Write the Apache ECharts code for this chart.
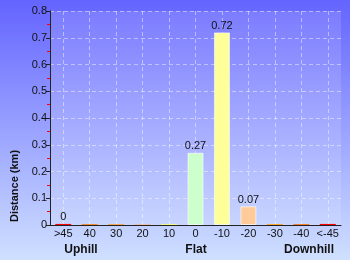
<!DOCTYPE html>
<html><head><meta charset="utf-8">
<script src="https://cdn.jsdelivr.net/npm/echarts@6/dist/echarts.min.js"></script>
<style>html,body{margin:0;padding:0;}#c{width:350px;height:260px;}</style>
</head><body><div id="c"></div>
<script>
const categories = ['>45','40','30','20','10','0','-10','-20','-30','-40','<-45'];
const values = [0.004, 0.003, 0.003, 0.002, 0.003, 0.27, 0.72, 0.07, 0.003, 0.003, 0.004];
const valueLabels = ['0','','','','','0.27','0.72','0.07','','',''];
const barColors = ['#ff0000','#ff7700','#ff9933','#ffaa66','#ffff66','#ccffcc','#ffff99','#ffcc99','#ff9900','#ff6600','#ff0000'];
const yTicks = [0,0.1,0.2,0.3,0.4,0.5,0.6,0.7,0.8];
const groupLabels = ['Uphill','Flat','Downhill'];
const axisTitle = 'Distance (km)';

const font = '"Liberation Sans", Arial, sans-serif';
const chart = echarts.init(document.getElementById('c'));
chart.setOption({
  animation:false,
  backgroundColor:{type:'linear',x:0,y:0,x2:0,y2:1,colorStops:[{offset:0,color:'#6464ff'},{offset:1,color:'#cfe0ff'}]},
  grid:{left:50,right:9,top:11,bottom:35,show:true,backgroundColor:'rgba(255,255,255,0.13)',borderWidth:0},
  xAxis:{type:'category',data:categories,
    axisLine:{lineStyle:{color:'#222',width:1}},
    axisTick:{show:false,alignWithLabel:true},
    axisLabel:{color:'#111',fontSize:11,fontFamily:font,margin:3,interval:0},
    splitLine:{show:true,alignWithLabel:true,lineStyle:{color:'rgba(255,255,255,0.45)',type:[4,3]}}
  },
  yAxis:{type:'value',min:0,max:0.8,interval:0.1,
    axisLine:{show:true,lineStyle:{color:'#222',width:1}},
    axisTick:{show:true,length:4,lineStyle:{color:'#222'}},
    minorTick:{show:true,splitNumber:2,length:3,lineStyle:{color:'#ff0000'}},
    axisLabel:{color:'#111',fontSize:11,fontFamily:font,margin:3,formatter:v=>String(+v.toFixed(1))},
    splitLine:{show:true,lineStyle:{color:'rgba(255,255,255,0.45)',type:[4,3]}}
  },
  series:[{type:'bar',barWidth:16,
    data:values.map((v,i)=>({value:v,itemStyle:{color:barColors[i],borderColor:'rgba(255,255,255,0.6)',borderWidth:values[i]>0.01?1:0},
      label:{show:valueLabels[i]!=='',formatter:valueLabels[i]}})),
    label:{position:'top',distance:1,color:'#111',fontSize:11,fontFamily:font}
  }],
  graphic:[
    {type:'text',x:15,y:186,rotation:Math.PI/2,style:{text:axisTitle,font:'bold 11px '+font,fill:'#111',align:'center',verticalAlign:'middle'}},
    {type:'text',x:81,y:250,style:{text:groupLabels[0],font:'bold 12px '+font,fill:'#111',align:'center',verticalAlign:'middle'}},
    {type:'text',x:196,y:250,style:{text:groupLabels[1],font:'bold 12px '+font,fill:'#111',align:'center',verticalAlign:'middle'}},
    {type:'text',x:309,y:250,style:{text:groupLabels[2],font:'bold 12px '+font,fill:'#111',align:'center',verticalAlign:'middle'}}
  ]
});
</script></body></html>
